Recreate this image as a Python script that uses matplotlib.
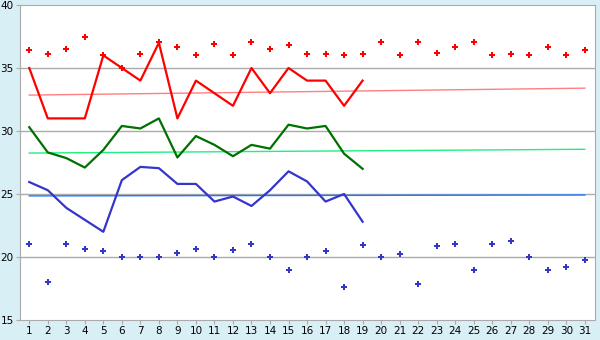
import matplotlib
matplotlib.use("Agg")
import matplotlib.pyplot as plt

days = list(range(1, 32))
line_days = list(range(1, 20))

red_line = [35, 31, 31, 31, 36, 35, 34, 37, 31, 34, 33, 32, 35, 33, 35, 34, 34, 32, 34]
green_line = [30.3, 28.3, 27.85, 27.1, 28.5, 30.4, 30.2, 31.0, 27.9, 29.6, 28.9, 28.0, 28.9, 28.6,
              30.5, 30.2, 30.4, 28.2, 27.0]
blue_line = [25.95, 25.3, 23.9, 22.95, 22.0, 26.1, 27.15, 27.05, 25.8, 25.8, 24.4, 24.8, 24.05, 25.3,
             26.8, 26.0, 24.4, 25.0, 22.8]

red_dots = [36.4, 36.1, 36.5, 37.5, 36.0, 35.0, 36.1, 37.1, 36.7, 36.0, 36.9, 36.0, 37.1, 36.5, 36.8,
            36.1, 36.1, 36.0, 36.1, 37.1, 36.0, 37.1, 36.2, 36.7, 37.1, 36.0, 36.1, 36.0, 36.7, 36.0, 36.4]
blue_dots = [21.0, 18.0, 21.0, 20.6, 20.45, 20.0, 20.0, 20.0, 20.3, 20.6, 20.0, 20.55, 21.0, 20.0, 18.95,
             20.0, 20.45, 17.6, 20.95, 20.0, 20.25, 17.85, 20.85, 21.0, 18.95, 21.0, 21.3, 20.0, 18.95,
             19.2, 19.8]

red_trend = [32.85, 33.4]
green_trend = [28.25, 28.55]
blue_trend = [24.85, 24.92]

fig = plt.figure(figsize=(6, 3.4), dpi=100, facecolor="#d9eff6")
ax = fig.add_axes([20 / 600, 20 / 340, 575 / 600, 315 / 340])
ax.set_facecolor("white")

for y in [20, 25, 30, 35]:
    ax.axhline(y, color="#aaaaaa", lw=1, zorder=0)

ends = [days[0], days[-1]]
ax.plot(ends, red_trend, color="#ff8080", lw=1)
ax.plot(ends, green_trend, color="#20f080", lw=1)
ax.plot(ends, blue_trend, color="#1e78ff", lw=1)

ax.plot(line_days, red_line, color="#ff0000", lw=1.6)
ax.plot(line_days, green_line, color="#007000", lw=1.6)
ax.plot(line_days, blue_line, color="#3535cc", lw=1.6)

ax.plot(days, red_dots, ls="none", marker="P", ms=4, color="#ff0000", mew=0)
ax.plot(days, blue_dots, ls="none", marker="P", ms=4, color="#3535cc", mew=0)

ax.set_xlim(0.5, 31.55)
ax.set_ylim(15, 40)
ax.set_xticks(days)
ax.set_yticks([15, 20, 25, 30, 35, 40])
ax.tick_params(labelsize=7.5, color="#aaaaaa", length=3, labelcolor="black", pad=1.5)
for s in ax.spines.values():
    s.set_color("#aaaaaa")

fig.savefig("out.png", dpi=100, facecolor=fig.get_facecolor())
